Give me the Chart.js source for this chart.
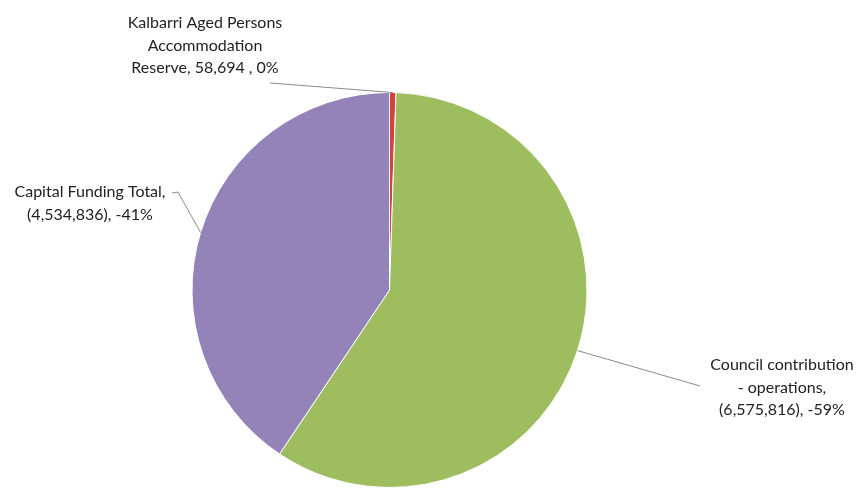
<!DOCTYPE html>
<html>
<head>
<meta charset="utf-8">
<script src="https://cdn.jsdelivr.net/npm/chart.js"></script>
<style>
  html, body { margin: 0; padding: 0; background: #fff; }
  #wrap { width: 859px; height: 490px; }
</style>
</head>
<body>
<div id="wrap"><canvas id="myChart"></canvas></div>
<script>
  // DATA (clockwise from the top)
  const categories = ['Kalbarri Aged Persons Accommodation Reserve', 'Council contribution - operations', 'Capital Funding Total'];
  const valueLabels = ['58,694 ', '(6,575,816)', '(4,534,836)'];
  const amounts = [58694, 6575816, 4534836];
  const percentLabels = ['0%', '-59%', '-41%'];
  const sliceColours = ['#d2423f', '#9ebd5e', '#9483b8'];

  // how each label is broken into lines (text comes from the arrays above)
  const labelLines = [
    ['Kalbarri Aged Persons', 'Accommodation', 'Reserve, ' + valueLabels[0] + ', ' + percentLabels[0]],
    ['Council contribution', '- operations,', valueLabels[1] + ', ' + percentLabels[1]],
    ['Capital Funding Total,', valueLabels[2] + ', ' + percentLabels[2]]
  ];
  // label placement: text centre x, first line y, and where the leader line starts
  const labelPlaces = [
    { x: 205, y: 23, lead: [[270, 83]] },
    { x: 782, y: 365, lead: [[700, 386]] },
    { x: 90, y: 192, lead: [[172, 193], [178, 192]] }
  ];

  // draws the data labels with leader lines to the middle of each slice edge
  const pieLabels = {
    id: 'pieLabels',
    afterDraw(chart) {
      const ctx = chart.ctx;
      const arcs = chart.getDatasetMeta(0).data;
      ctx.save();
      arcs.forEach((arc, i) => {
        const mid = (arc.startAngle + arc.endAngle) / 2;
        const ax = arc.x + Math.cos(mid) * arc.outerRadius;
        const ay = arc.y + Math.sin(mid) * arc.outerRadius;
        const place = labelPlaces[i];
        ctx.strokeStyle = '#8a8a8a';
        ctx.lineWidth = 1;
        ctx.beginPath();
        ctx.moveTo(place.lead[0][0], place.lead[0][1]);
        for (let k = 1; k < place.lead.length; k++) ctx.lineTo(place.lead[k][0], place.lead[k][1]);
        ctx.lineTo(ax, ay);
        ctx.stroke();

        ctx.fillStyle = '#222222';
        ctx.font = '16px Lato';
        ctx.textAlign = 'center';
        ctx.textBaseline = 'middle';
        labelLines[i].forEach((line, j) => {
          ctx.fillText(line, place.x, place.y + j * 22.5);
        });
      });
      ctx.restore();
    }
  };

  const ctx = document.getElementById('myChart');
  new Chart(ctx, {
    type: 'pie',
    data: {
      labels: categories,
      datasets: [{
        data: amounts,
        backgroundColor: sliceColours,
        borderColor: '#ffffff',
        borderWidth: 1
      }]
    },
    options: {
      responsive: true,
      maintainAspectRatio: false,
      animation: false,
      layout: { padding: { top: 92, bottom: 2, left: 0, right: 80 } },
      plugins: {
        legend: { display: false },
        tooltip: { enabled: false }
      }
    },
    plugins: [pieLabels]
  });
</script>
</body>
</html>
